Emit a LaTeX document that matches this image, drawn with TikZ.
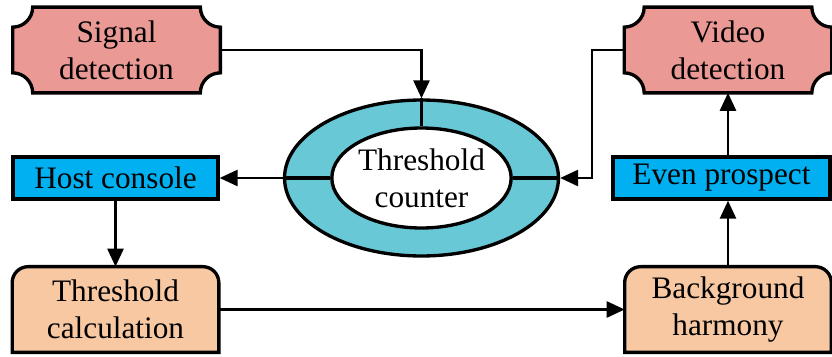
\documentclass[tikz,border=0pt]{standalone}
\usepackage{fontspec}
\setmainfont{Liberation Serif}
\usetikzlibrary{positioning,arrows.meta,shapes.geometric,backgrounds}
\definecolor{SalmonFill}{RGB}{234,153,148}
\definecolor{ConsoleBlue}{RGB}{0,176,240}
\definecolor{RingCyan}{RGB}{104,200,214}
\definecolor{PeachFill}{RGB}{248,200,163}
\tikzset{
  flow/.style={-{Triangle[length=3.6mm,width=3.2mm]},line width=1.5pt},
  frame/.style={draw,line width=1.9pt},
  txt/.style={inner sep=0pt,align=center,font=\fontsize{17.8}{21}\selectfont},
  scoopbox/.style={txt,minimum width=4.14cm,minimum height=1.7cm},
  bluebox/.style={txt,frame,fill=ConsoleBlue,minimum width=4.1cm,minimum height=0.84cm},
  peachbox/.style={txt,minimum width=4.12cm,minimum height=1.7cm},
  ring/.style={ellipse,frame,inner sep=0pt}
}
\newcommand{\scoopframe}[2]{%
  \begin{pgfonlayer}{background}
  \draw[frame,fill=#2] ([xshift=0.4cm]#1.north west) -- ([xshift=-0.4cm]#1.north east)
    arc[start angle=180,end angle=270,radius=0.4cm] -- ([yshift=0.4cm]#1.south east)
    arc[start angle=90,end angle=180,radius=0.4cm] -- ([xshift=0.4cm]#1.south west)
    arc[start angle=0,end angle=90,radius=0.4cm] -- ([yshift=-0.4cm]#1.north west)
    arc[start angle=270,end angle=360,radius=0.4cm] -- cycle;
  \end{pgfonlayer}}
\newcommand{\roundtopframe}[2]{%
  \begin{pgfonlayer}{background}
  \draw[frame,fill=#2] (#1.south west) -- ([yshift=-0.32cm]#1.north west)
    arc[start angle=180,end angle=90,radius=0.32cm] -- ([xshift=-0.32cm]#1.north east)
    arc[start angle=90,end angle=0,radius=0.32cm] -- (#1.south east) -- cycle;
  \end{pgfonlayer}}

\begin{document}
\begin{tikzpicture}[x=0.02cm,y=0.02cm]
  \useasboundingbox (0,0) rectangle (832,356);
  \node[scoopbox] (signal) at (116.5,306) {Signal\\detection};
  \node[scoopbox] (video) at (728,306) {Video\\detection};
  \node[bluebox] (host) at (115.5,178) {Host console};
  \node[bluebox,minimum width=4.34cm] (even) at (721.5,178) {Even prospect};
  \node[peachbox] (calc) at (115.5,46.5) {Threshold\\calculation};
  \node[peachbox] (harmony) at (728,46.5) {Background\\harmony};
  \node[ring,fill=RingCyan,minimum width=5.48cm,minimum height=3.12cm] (outer) at (421.5,178) {};
  \node[ring,txt,fill=white,minimum width=3.52cm,minimum height=2cm] (counter) at (421.5,178) {Threshold\\counter};
  \scoopframe{signal}{SalmonFill}
  \scoopframe{video}{SalmonFill}
  \roundtopframe{calc}{PeachFill}
  \roundtopframe{harmony}{PeachFill}
  \draw[frame] (outer.north) -- (counter.north);
  \draw[frame] (outer.west) -- (counter.west);
  \draw[frame] (outer.east) -- (counter.east);
  \draw[flow] (signal.east) -| (outer.north);
  \draw[flow] (video.west) -- ++(-32,0) |- (outer.east);
  \draw[flow] (outer.west) -- (host.east);
  \draw[flow] (host.south) -- (calc.north);
  \draw[flow] (calc.east) -- (harmony.west);
  \draw[flow] (harmony.north) -- (harmony.north |- even.south);
  \draw[flow] (video.south |- even.north) -- (video.south);
\end{tikzpicture}
\end{document}
